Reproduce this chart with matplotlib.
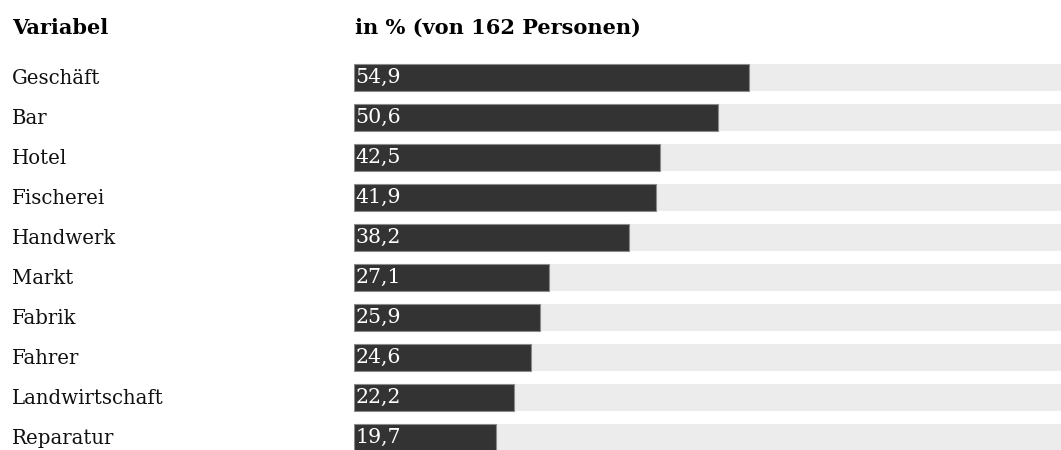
import matplotlib
matplotlib.use("Agg")
import matplotlib.pyplot as plt
from matplotlib.transforms import blended_transform_factory

categories = ["Geschäft", "Bar", "Hotel", "Fischerei", "Handwerk", "Markt",
              "Fabrik", "Fahrer", "Landwirtschaft", "Reparatur"]
values = [54.9, 50.6, 42.5, 41.9, 38.2, 27.1, 25.9, 24.6, 22.2, 19.7]
value_labels = ["54,9", "50,6", "42,5", "41,9", "38,2", "27,1", "25,9", "24,6", "22,2", "19,7"]
header_left = "Variabel"
header_right = "in % (von 162 Personen)"

W, H = 1061, 450
fig = plt.figure(figsize=(W / 100, H / 100), dpi=100)
plt.rcParams['font.family'] = ['DejaVu Serif', 'Liberation Serif']

left_px = 354
top_px = 57
bottom_px = 457
ax = fig.add_axes([left_px / W, (H - bottom_px) / H, 1 - left_px / W, (bottom_px - top_px) / H])
ax.set_xlim(0, (W - left_px) / 7.2)
ax.set_ylim(len(categories) - 0.5, -0.5)
ax.axis("off")

ypos = list(range(len(categories)))
ax.barh(ypos, [100] * len(values), height=0.675, color="#ececec", linewidth=0)
ax.barh(ypos, values, height=0.675, color="#333333", edgecolor="#8a8a8a", linewidth=0.8)

for y, lab in zip(ypos, value_labels):
    ax.text(0.2, y, lab, color="white", fontsize=14.8, va="center", ha="left")

trans = blended_transform_factory(fig.transFigure, ax.transData)
for y, cat in zip(ypos, categories):
    fig.text(12 / W, y + 0.04, cat, transform=trans, fontsize=14.2, va="center", ha="left", color="#111111")

fig.text(12 / W, 1 - 28 / H, header_left, fontsize=15, fontweight="bold", va="center", ha="left")
fig.text(355 / W, 1 - 28 / H, header_right, fontsize=15, fontweight="bold", va="center", ha="left")

fig.savefig("out.png", dpi=100)
